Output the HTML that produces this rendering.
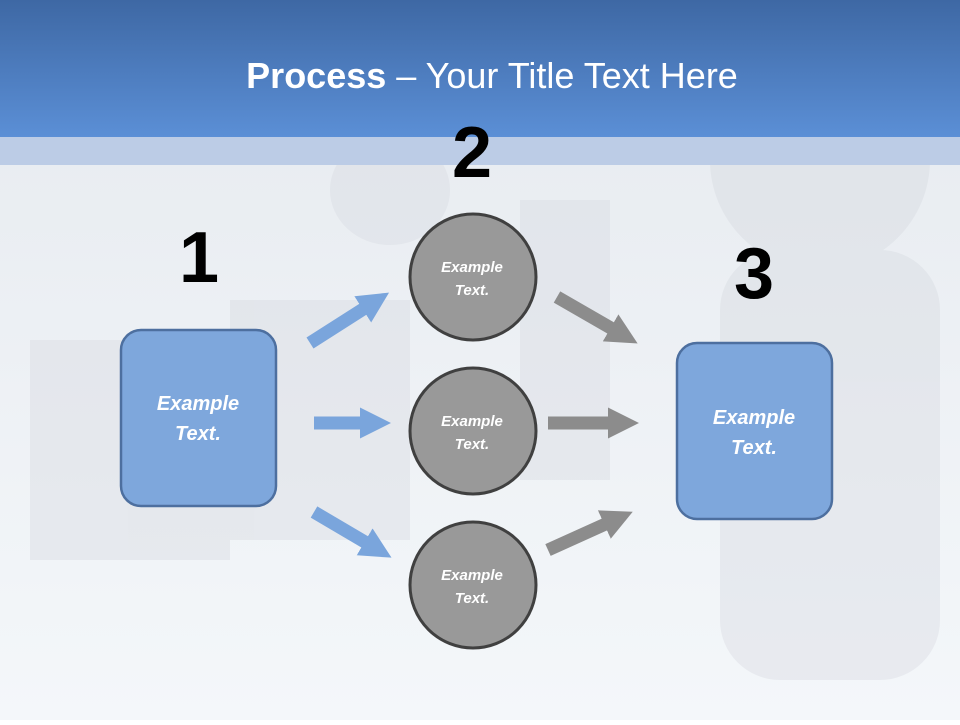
<!DOCTYPE html>
<html><head><style>
body{margin:0;width:960px;height:720px;overflow:hidden;font-family:"Liberation Sans",sans-serif;}
</style></head><body>
<svg width="960" height="720" xmlns="http://www.w3.org/2000/svg">
<defs>
<linearGradient id="hd" x1="0" y1="0" x2="0" y2="1"><stop offset="0" stop-color="#3e68a4"/><stop offset="1" stop-color="#5b8fd6"/></linearGradient>
<linearGradient id="bg" x1="0" y1="0" x2="0" y2="1"><stop offset="0" stop-color="#e6eaef"/><stop offset="1" stop-color="#f4f7fa"/></linearGradient>
<marker id="ab" viewBox="0 0 10 10" refX="2" refY="5" markerWidth="2.4" markerHeight="2.4" orient="auto"><path d="M0,0 L10,5 L0,10z" fill="#7aa5dc"/></marker>
<marker id="ag" viewBox="0 0 10 10" refX="2" refY="5" markerWidth="2.4" markerHeight="2.4" orient="auto"><path d="M0,0 L10,5 L0,10z" fill="#8c8c8c"/></marker>
</defs>
<rect width="960" height="720" fill="url(#bg)"/>
<g fill="#d6dae0" opacity="0.4">
<rect x="30" y="340" width="200" height="220"/><rect x="230" y="300" width="180" height="240"/>
<ellipse cx="390" cy="190" rx="60" ry="55"/><rect x="520" y="200" width="90" height="280"/>
<ellipse cx="820" cy="160" rx="110" ry="110"/><rect x="720" y="250" width="220" height="430" rx="60"/>
</g>
<rect width="960" height="137" fill="url(#hd)"/>
<rect y="137" width="960" height="28" fill="#bccce6"/>
<text x="492" y="88" text-anchor="middle" font-size="36" fill="#fff"><tspan font-weight="bold">Process</tspan> – Your Title Text Here</text>
<g font-weight="bold" font-size="72" fill="#000" text-anchor="middle">
<text x="199" y="282">1</text><text x="472" y="177">2</text><text x="754" y="298">3</text>
</g>
<g stroke="#7aa5dc" stroke-width="13">
<line x1="310" y1="343" x2="368" y2="306" marker-end="url(#ab)"/>
<line x1="314" y1="423" x2="366" y2="423" marker-end="url(#ab)"/>
<line x1="314" y1="512" x2="370" y2="545" marker-end="url(#ab)"/>
</g>
<g stroke="#8c8c8c" stroke-width="13">
<line x1="557" y1="297" x2="616" y2="331" marker-end="url(#ag)"/>
<line x1="548" y1="423" x2="614" y2="423" marker-end="url(#ag)"/>
<line x1="548" y1="550" x2="610" y2="522" marker-end="url(#ag)"/>
</g>
<rect x="121" y="330" width="155" height="176" rx="20" fill="#7ea7dc" stroke="#4d6f9f" stroke-width="2.5"/>
<rect x="677" y="343" width="155" height="176" rx="20" fill="#7ea7dc" stroke="#4d6f9f" stroke-width="2.5"/>
<g fill="#999" stroke="#404040" stroke-width="3">
<circle cx="473" cy="277" r="63"/><circle cx="473" cy="431" r="63"/><circle cx="473" cy="585" r="63"/>
</g>
<g fill="#fff" font-style="italic" font-weight="bold" text-anchor="middle">
<text font-size="20" x="198" y="410">Example</text><text font-size="20" x="198" y="440">Text.</text>
<text font-size="20" x="754" y="424">Example</text><text font-size="20" x="754" y="454">Text.</text>
<text font-size="15" x="472" y="272">Example</text><text font-size="15" x="472" y="295">Text.</text>
<text font-size="15" x="472" y="426">Example</text><text font-size="15" x="472" y="449">Text.</text>
<text font-size="15" x="472" y="580">Example</text><text font-size="15" x="472" y="603">Text.</text>
</g>
</svg>
</body></html>
